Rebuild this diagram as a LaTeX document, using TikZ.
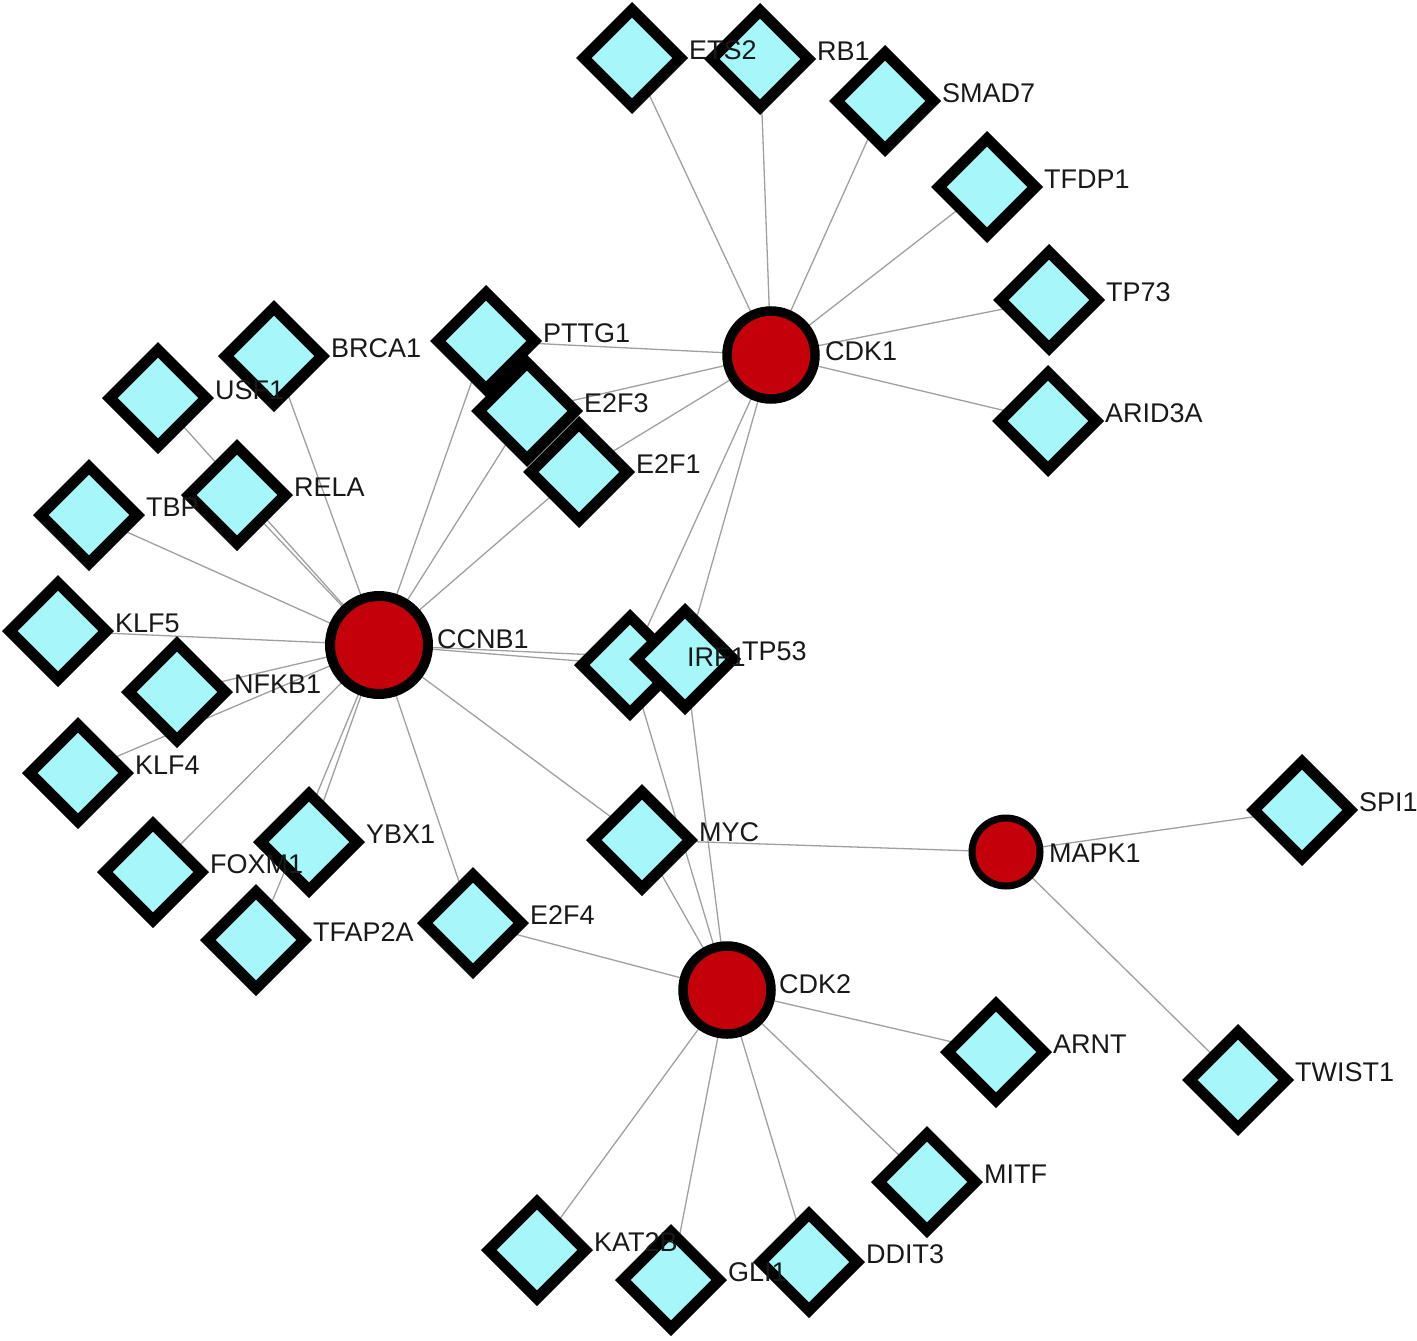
\documentclass[tikz,border=0pt]{standalone}
\usepackage{fontspec}
\setmainfont{Liberation Sans}
\usetikzlibrary{shapes.geometric,backgrounds}
\definecolor{gcyan}{HTML}{A6F7FA}
\definecolor{gred}{HTML}{C4000B}
\definecolor{gedge}{HTML}{A0A0A0}
\tikzset{
  gene/.style={shape=diamond,draw=black,fill=gcyan,line width=11pt,minimum width=101pt,minimum height=101pt,inner sep=0pt,aspect=1},
  hubbig/.style={circle,draw=black,fill=gred,line width=10pt,minimum size=98pt,inner sep=0pt},
  hub/.style={circle,draw=black,fill=gred,line width=9.5pt,minimum size=88pt,inner sep=0pt},
  hubsmall/.style={circle,draw=black,fill=gred,line width=7pt,minimum size=68pt,inner sep=0pt},
  lab/.style={anchor=base west,inner sep=0pt,font=\fontsize{27}{30}\selectfont,text=black!90},
  edge/.style={draw=gedge,line width=1.3pt}
}
\begin{document}
\begin{tikzpicture}[x=1pt,y=-1pt]
\useasboundingbox (0,0) rectangle (1417,1341);
% hubs
\node[hubbig] (CCNB1) at (379,645) {};
\node[hub] (CDK1) at (771,355) {};
\node[hub] (CDK2) at (727,990) {};
\node[hubsmall] (MAPK1) at (1006,852) {};
% genes
\foreach \n/\x/\y in {ETS2/632/58, RB1/760/59, SMAD7/885/101, TFDP1/987/187, TP73/1049/300, ARID3A/1048/421,
  BRCA1/274/356, USF1/158/398, TBP/89/515, RELA/237/495, KLF5/58/631, NFKB1/177/692, KLF4/78/773,
  FOXM1/153/872, TFAP2A/256/940, YBX1/309/842, E2F4/473/923,
  PTTG1/486/341, E2F1/579/472, E2F3/527/411,
  IRF1/630/665, TP53/685/659, MYC/642/840,
  SPI1/1302/810, TWIST1/1238/1080,
  ARNT/996/1052, MITF/927/1182, KAT2B/537/1250, GLI1/671/1280, DDIT3/809/1262}
  \node[gene] (\n) at (\x,\y) {};
% edges
\begin{scope}[on background layer]
\foreach \a/\b in {CDK1/ETS2, CDK1/RB1, CDK1/SMAD7, CDK1/TFDP1, CDK1/TP73, CDK1/ARID3A, CDK1/PTTG1, CDK1/E2F3, CDK1/E2F1, CDK1/IRF1, CDK1/TP53,
  CCNB1/USF1, CCNB1/BRCA1, CCNB1/RELA, CCNB1/TBP, CCNB1/KLF5, CCNB1/NFKB1, CCNB1/KLF4, CCNB1/FOXM1, CCNB1/YBX1, CCNB1/TFAP2A, CCNB1/E2F4, CCNB1/MYC, CCNB1/PTTG1, CCNB1/E2F3, CCNB1/E2F1, CCNB1/IRF1, CCNB1/TP53,
  CDK2/E2F4, CDK2/MYC, CDK2/IRF1, CDK2/TP53, CDK2/ARNT, CDK2/MITF, CDK2/DDIT3, CDK2/GLI1, CDK2/KAT2B,
  MAPK1/MYC, MAPK1/SPI1, MAPK1/TWIST1}
  \draw[edge] (\a.center) -- (\b.center);
\end{scope}
% labels
\foreach \n in {ETS2, RB1, SMAD7, TFDP1, TP73, ARID3A, BRCA1, USF1, TBP, RELA, KLF5, NFKB1, KLF4,
  FOXM1, TFAP2A, YBX1, E2F4, PTTG1, E2F1, E2F3, IRF1, TP53, MYC, SPI1, TWIST1, ARNT, MITF, KAT2B, GLI1, DDIT3}
  \node[lab] (l\n) at ([xshift=57pt,yshift=-1pt]\n.center) {\n};
\node[lab] (lCCNB1) at ([xshift=58pt,yshift=-3pt]CCNB1.center) {CCNB1};
\node[lab] (lCDK1) at ([xshift=54pt,yshift=-5pt]CDK1.center) {CDK1};
\node[lab] (lCDK2) at ([xshift=52pt,yshift=-3pt]CDK2.center) {CDK2};
\node[lab] (lMAPK1) at ([xshift=43pt,yshift=-10pt]MAPK1.center) {MAPK1};
\end{tikzpicture}
\end{document}
